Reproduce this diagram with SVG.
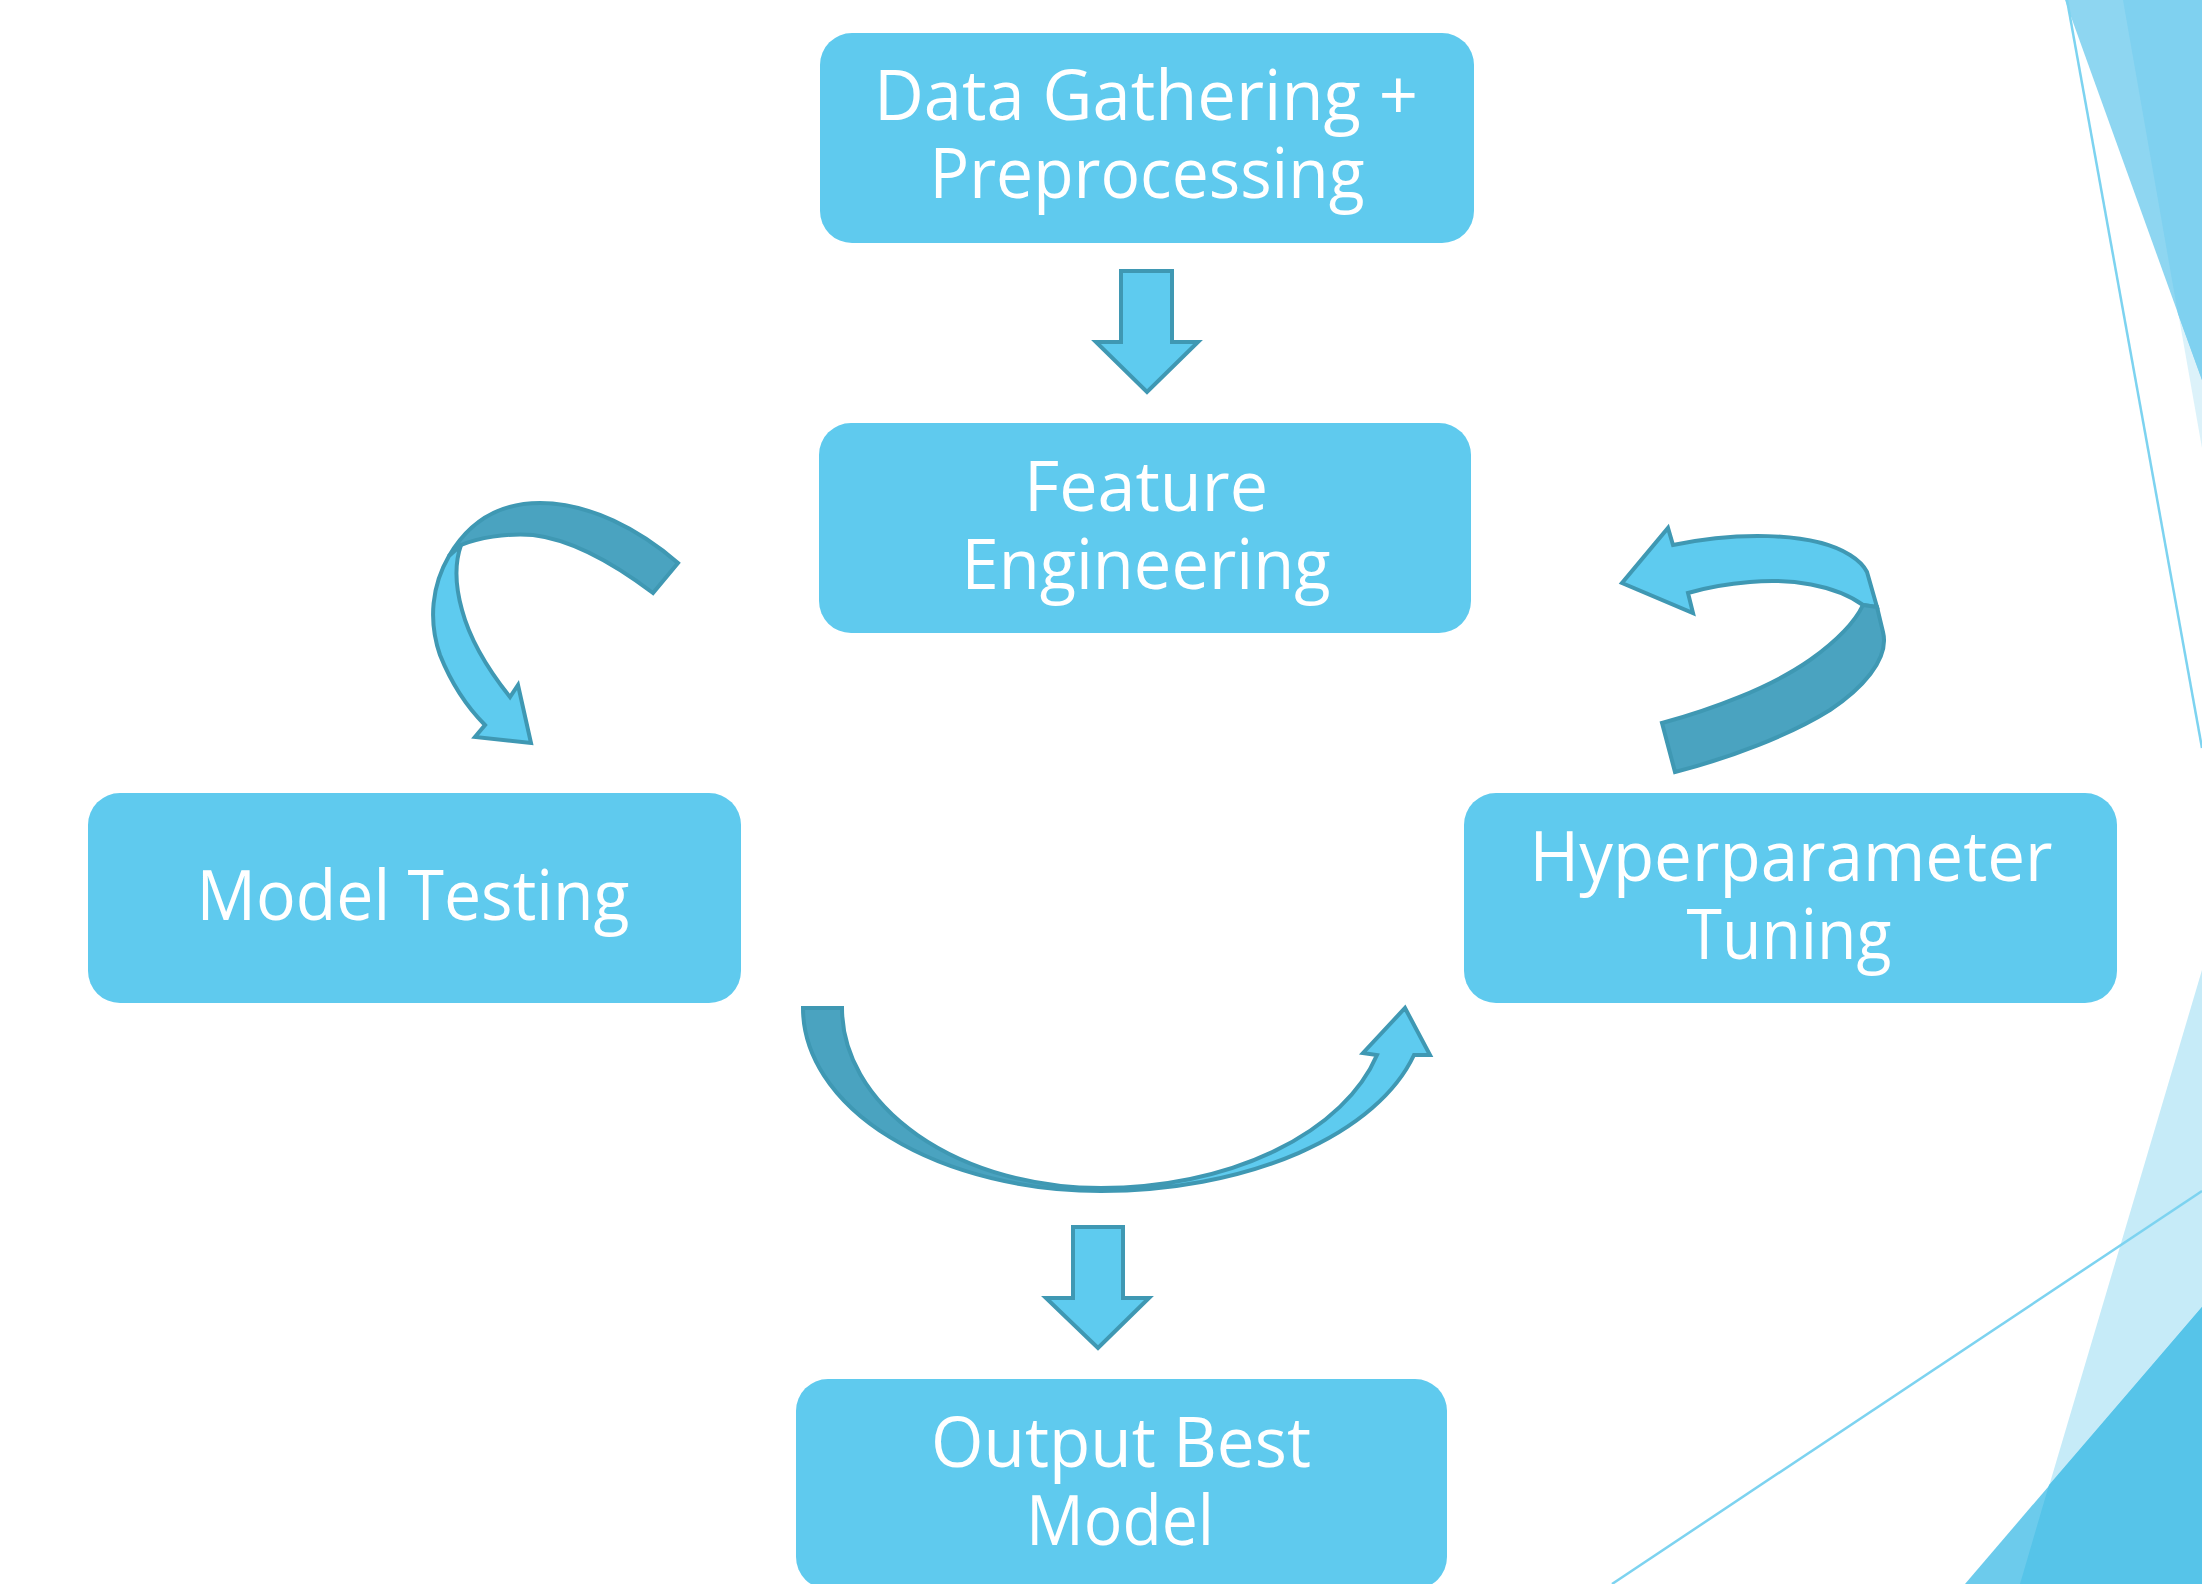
<svg xmlns="http://www.w3.org/2000/svg" width="2202" height="1584" viewBox="0 0 2202 1584">
<style>
.box{fill:#5fcaee;}
.lbl{font-family:"Open Sans","Noto Sans","Liberation Sans",sans-serif;font-size:70px;fill:#ffffff;text-anchor:middle;}
.arL{fill:#5ecbef;stroke:#3f98b3;stroke-width:4;stroke-linejoin:miter;}
.arD{fill:#4aa3c0;stroke:#3f98b3;stroke-width:4;stroke-linejoin:miter;}
.deco{stroke:none;}
</style>
<rect width="2202" height="1584" fill="#ffffff"/>
<g id="decoration">
<polygon class="deco" points="2123,0 2202,0 2202,448" fill="#dcf2fa"/>
<polygon class="deco" points="2065,0 2202,0 2202,380" fill="#8ed6f1"/>
<polygon class="deco" points="2123,0 2202,0 2202,380 2178,314" fill="#7fd1f0"/>
<line x1="2067" y1="0" x2="2202" y2="748" stroke="#7dd3f0" stroke-width="2.5"/>
<polygon class="deco" points="2202,970 2202,1584 2020,1584" fill="#c6ebf8"/>
<polygon class="deco" points="2202,1307 2202,1584 1965,1584" fill="#6ccbec"/>
<polygon class="deco" points="2202,1307 2202,1584 2020,1584 2049,1485" fill="#56c4e9"/>
<line x1="1612" y1="1584" x2="2202" y2="1191" stroke="#7dd3f0" stroke-width="2.5"/>
</g>
<g id="connectors">
<polygon class="arL" points="1121,271 1172,271 1172,342 1198,342 1147,392 1096,342 1121,342"/>
<polygon class="arL" points="1073,1227 1123,1227 1123,1298 1149,1298 1098,1348 1046,1298 1073,1298"/>
<path class="arD" d="M449,556 C470,520 500,503 540,503 C590,503 640,530 678,563 L653,593 C620,568 575,540 533,535 C505,533 478,538 461,545 Z"/>
<path class="arL" d="M449,556 C432,585 428,620 440,655 C452,685 468,708 485,725 L475,737 L531,743 L518,685 L510,697 C490,672 470,640 462,610 C455,585 455,562 461,545 Z"/>
<path class="arL" d="M1673,545 C1730,533 1810,530 1850,555 C1858,560 1864,566 1867,572 L1877,607 L1863,605 C1835,585 1790,578 1750,582 C1725,584 1705,588 1688,593 L1693,613 L1622,583 L1668,528 Z"/>
<path class="arD" d="M1863,605 L1877,607 L1883,632 C1890,660 1860,690 1830,710 C1790,735 1730,758 1675,772 L1662,723 C1710,710 1770,688 1810,660 C1835,642 1855,622 1863,605 Z"/>
<path class="arD" d="M803,1008 A298,183 0 0 0 1101,1191 L1101,1188 A259,180 0 0 1 842,1008 Z"/>
<path class="arL" d="M1101,1191 A324,183 0 0 0 1414,1055 L1430,1055 L1405,1008 L1363,1053 L1377,1055 A286,180 0 0 1 1101,1188 Z"/>
</g>
<g id="node-data">
<rect class="box" x="820" y="33" width="654" height="210" rx="32" ry="32"/>
<text class="lbl" x="1146" y="120" textLength="544" lengthAdjust="spacingAndGlyphs">Data Gathering +</text>
<text class="lbl" x="1147" y="198" textLength="435" lengthAdjust="spacingAndGlyphs">Preprocessing</text>
</g>
<g id="node-feature">
<rect class="box" x="819" y="423" width="652" height="210" rx="32" ry="32"/>
<text class="lbl" x="1146" y="511" textLength="244" lengthAdjust="spacingAndGlyphs">Feature</text>
<text class="lbl" x="1146" y="589" textLength="369" lengthAdjust="spacingAndGlyphs">Engineering</text>
</g>
<g id="node-testing">
<rect class="box" x="88" y="793" width="653" height="210" rx="32" ry="32"/>
<text class="lbl" x="413" y="920" textLength="433" lengthAdjust="spacingAndGlyphs">Model Testing</text>
</g>
<g id="node-tuning">
<rect class="box" x="1464" y="793" width="653" height="210" rx="32" ry="32"/>
<text class="lbl" x="1791" y="881" textLength="523" lengthAdjust="spacingAndGlyphs">Hyperparameter</text>
<text class="lbl" x="1789" y="959" textLength="205" lengthAdjust="spacingAndGlyphs">Tuning</text>
</g>
<g id="node-output">
<rect class="box" x="796" y="1379" width="651" height="210" rx="32" ry="32"/>
<text class="lbl" x="1121" y="1467" textLength="380" lengthAdjust="spacingAndGlyphs">Output Best</text>
<text class="lbl" x="1120" y="1545" textLength="188" lengthAdjust="spacingAndGlyphs">Model</text>
</g>
</svg>
